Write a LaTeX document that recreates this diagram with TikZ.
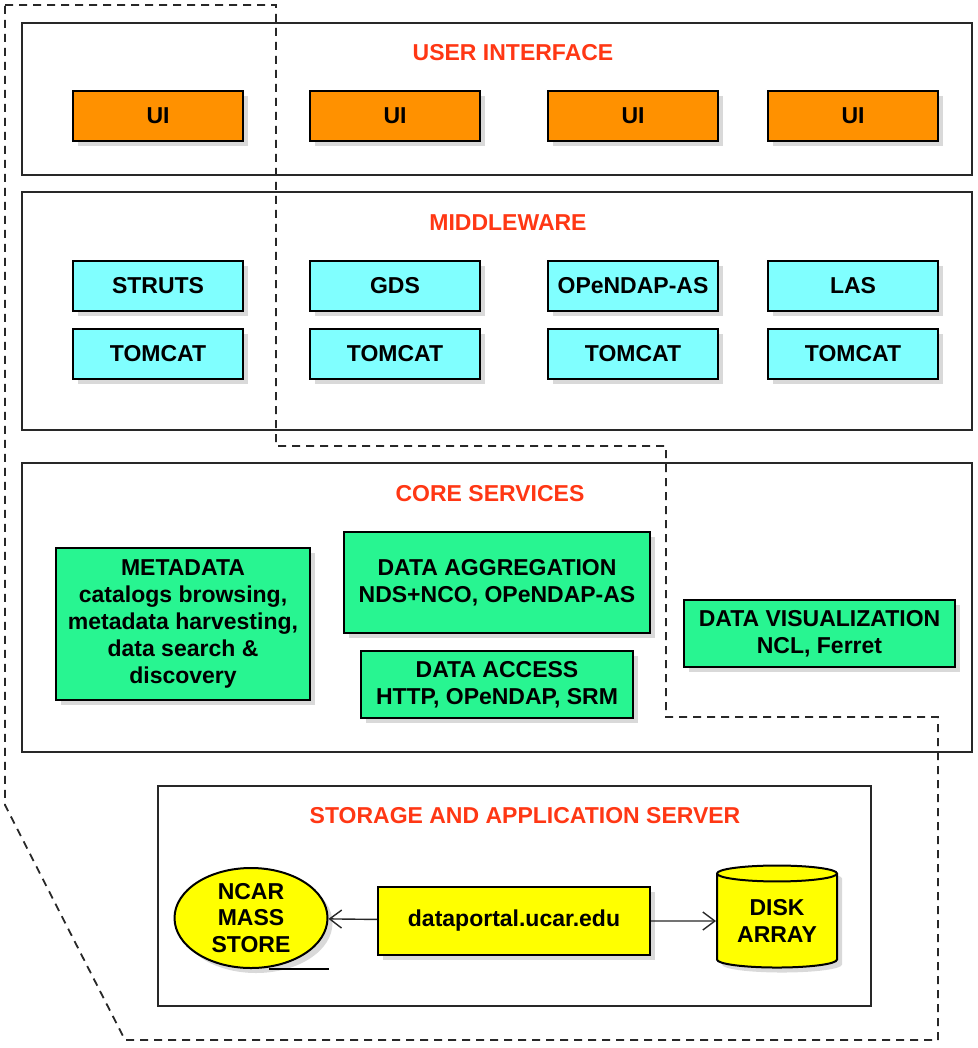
\documentclass[tikz,border=0pt]{standalone}
\usepackage{fontspec}
\setmainfont{Liberation Sans}
\usepackage{xcolor}
\usepackage{tikz}
\usetikzlibrary{positioning,arrows.meta,shadows,shapes.geometric}
\definecolor{titlered}{RGB}{255,55,20}
\definecolor{uiorange}{RGB}{255,145,0}
\definecolor{mwcyan}{RGB}{128,255,255}
\definecolor{coregreen}{RGB}{40,245,145}
\definecolor{storeyellow}{RGB}{255,255,0}
\definecolor{framegray}{RGB}{40,40,40}

\begin{document}
\begin{tikzpicture}[x=0.5pt, y=-0.5pt,
        every node/.style={font=\fontsize{11.5}{13.4}\selectfont\bfseries},
        panel/.style={rectangle, draw=framegray, line width=1pt, inner sep=0pt},
        title/.style={text=titlered},
        box/.style={rectangle, draw=black, line width=1pt, align=center,
                   inner sep=0pt,
                   drop shadow={shadow xshift=2.5pt, shadow yshift=-2.5pt, opacity=0.3}},
        uibox/.style={box, fill=uiorange, minimum width=85pt, minimum height=25pt},
        mwbox/.style={box, fill=mwcyan, minimum width=85pt, minimum height=25pt},
        corebox/.style={box, fill=coregreen},
        storebox/.style={box, fill=storeyellow},
        arrow/.style={-{Straight Barb[length=6pt, width=9pt]}, line width=0.7pt, framegray}
    ]
        \useasboundingbox (0,0) rectangle (978,1048);

        % layers
        \node[panel, minimum width=475pt, minimum height=76pt] (uipanel) at (497,99) {};
        \node[panel, minimum width=475pt, minimum height=119pt] (mwpanel) at (497,311) {};
        \node[panel, minimum width=475pt, minimum height=144.5pt] (corepanel) at (497,607.5) {};
        \node[panel, minimum width=356.5pt, minimum height=110pt] (storepanel) at (514.5,896) {};

        \node[title] (uititle) at (513,53) {USER INTERFACE};
        \node[title] (mwtitle) at (508,223) {MIDDLEWARE};
        \node[title] (coretitle) at (490,494) {CORE SERVICES};
        \node[title] (storetitle) at (525,816) {STORAGE AND APPLICATION SERVER};

        % user interface
        \node[uibox] (ui1) at (158,116) {UI};
        \node[uibox] (ui2) at (395,116) {UI};
        \node[uibox] (ui3) at (633,116) {UI};
        \node[uibox] (ui4) at (853,116) {UI};

        % middleware
        \node[mwbox] (struts) at (158,286) {STRUTS};
        \node[mwbox] (gds) at (395,286) {GDS};
        \node[mwbox] (opendapas) at (633,286) {OPeNDAP-AS};
        \node[mwbox] (las) at (853,286) {LAS};
        \node[mwbox] (tomcat1) at (158,354) {TOMCAT};
        \node[mwbox] (tomcat2) at (395,354) {TOMCAT};
        \node[mwbox] (tomcat3) at (633,354) {TOMCAT};
        \node[mwbox] (tomcat4) at (853,354) {TOMCAT};

        % core services
        \node[corebox, minimum width=127pt, minimum height=76pt] (metadata) at (183,624)
            {METADATA\\catalogs browsing,\\metadata harvesting,\\data search \&\\discovery};
        \node[corebox, minimum width=153pt, minimum height=50.5pt] (aggregation) at (497,582.5)
            {DATA AGGREGATION\\NDS+NCO, OPeNDAP-AS};
        \node[corebox, minimum width=136pt, minimum height=33.5pt] (access) at (497,684.5)
            {DATA ACCESS\\HTTP, OPeNDAP, SRM};
        \node[corebox, minimum width=135.5pt, minimum height=33.5pt] (visual) at (819.5,633.5)
            {DATA VISUALIZATION\\NCL, Ferret};

        % storage
        \node[storebox, ellipse, minimum width=76.5pt, minimum height=50pt] (massstore) at (251,918)
            {NCAR\\MASS\\STORE};
        \node[storebox, minimum width=136pt, minimum height=34pt] (portal) at (514,921)
            {dataportal.ucar.edu};
        \node[storebox, cylinder, shape border rotate=90, aspect=0.2,
              minimum width=60pt, minimum height=51pt] (disk) at (777,921)
            {DISK\\ARRAY};

        \draw[arrow] (portal) -- (massstore);
        \draw[arrow] (portal) -- (disk);
        \draw[line width=0.7pt] ([xshift=9pt]massstore.south) -- (massstore.south -| massstore.east);

        % deployment outline
        \draw[dashed, dash pattern=on 4pt off 3pt, line width=0.9pt, framegray]
            (5,5) -- (276,5) -- (276,446) -- (666,446) -- (666,717) -- (938,717)
            -- (938,1040) -- (125,1040) -- (5,805) -- cycle;
    \end{tikzpicture}
\end{document}
